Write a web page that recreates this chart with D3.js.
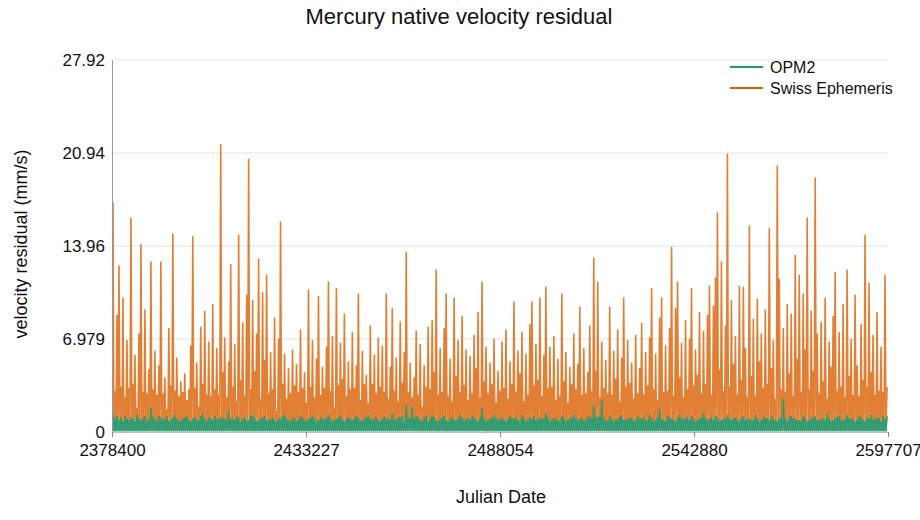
<!DOCTYPE html>
<html>
    <head>
        <title>Mercury native velocity residual</title>
        <script src="https://d3js.org/d3.v7.min.js"></script>
        <style>
            body { margin: 0; background: #fff; }
            svg { font-family: 'Liberation Sans', Arial, Helvetica, sans-serif; }
        </style>
    </head>
    <body>
        <script>
            const jdStart = 2378400
            const jdEnd = 2597707
            const xTicks = [2378400, 2433227, 2488054, 2542880, 2597707]
            const yTicks = [0, 6.979, 13.96, 20.94, 27.92]
            const yTickLabels = ['0', '6.979', '13.96', '20.94', '27.92']
            const seriesNames = ['OPM2', 'Swiss Ephemeris']
            const colors = ['#1b9e77', '#d95f02']

            // the series are far denser than the screen; each value below is the
            // highest residual in one equal slice of the date range,
            // and every slice dips back to about zero (floor values)
            const seriesFloor = [0.05, 0.1]

            const swissPeaks = [
                17.2, 3.1, 8.8, 12.5, 3.4, 10.1, 2.6, 6.9, 3.3, 16.1, 3.6, 5.8, 1.8, 7.4, 14.1, 3.0, 9.2, 2.9, 4.7, 12.8,
                3.2, 6.1, 2.8, 5.0, 12.8, 2.9, 4.1, 1.7, 7.8, 3.5, 14.9, 3.1, 5.6, 2.7, 3.8, 3.0, 4.4, 2.4, 3.2, 6.5,
                14.7, 3.3, 5.2, 1.9, 7.9, 3.6, 9.1, 2.8, 6.8, 2.7, 9.6, 3.2, 6.3, 2.8, 21.6, 4.5, 7.1, 2.6, 5.3, 12.6,
                3.4, 6.6, 2.3, 14.8, 3.9, 8.2, 2.7, 10.3, 20.5, 3.2, 9.9, 4.6, 7.4, 13.0, 2.5, 10.5, 5.4, 11.8, 2.9, 6.0,
                3.2, 8.6, 1.6, 7.0, 15.8, 3.6, 5.9, 2.5, 4.8, 2.9, 6.2, 3.5, 5.1, 3.0, 7.7, 3.3, 4.5, 2.2, 10.7, 3.4,
                6.9, 2.6, 5.5, 10.2, 2.8, 4.9, 3.3, 6.4, 11.3, 3.1, 7.2, 1.8, 10.8, 3.5, 6.7, 4.0, 8.9, 2.7, 5.3, 3.2,
                7.5, 3.3, 5.0, 10.4, 2.4, 6.1, 3.6, 4.3, 2.2, 8.0, 3.6, 5.8, 2.9, 7.1, 3.4, 6.5, 3.0, 10.4, 2.5, 4.9,
                9.3, 3.1, 5.6, 2.3, 8.3, 3.7, 6.0, 13.5, 3.0, 5.2, 2.6, 4.1, 7.6, 2.8, 6.6, 1.9, 5.0, 3.4, 7.9, 3.2,
                8.4, 4.5, 12.2, 2.8, 6.3, 3.0, 7.8, 10.4, 2.7, 5.5, 2.3, 10.1, 4.2, 6.9, 3.0, 8.7, 3.5, 6.2, 2.4, 5.7,
                2.9, 7.3, 4.8, 9.0, 2.6, 11.3, 3.8, 6.4, 2.9, 5.2, 3.6, 7.0, 2.2, 4.6, 3.1, 6.8, 3.3, 7.7, 2.5, 5.3,
                3.6, 9.8, 3.0, 6.1, 4.4, 7.5, 2.3, 5.9, 2.8, 8.1, 9.8, 3.5, 6.6, 3.9, 10.1, 2.7, 5.8, 10.9, 3.3, 6.4,
                3.4, 7.2, 2.4, 5.5, 2.7, 10.4, 3.8, 6.0, 2.2, 4.9, 3.6, 7.4, 3.2, 5.1, 9.4, 2.8, 6.3, 2.9, 4.5, 8.0,
                3.1, 13.1, 4.6, 11.3, 2.6, 6.8, 3.3, 5.4, 2.9, 9.4, 2.8, 6.1, 4.0, 7.7, 2.3, 5.6, 10.1, 3.4, 6.9, 3.7,
                5.2, 2.5, 7.3, 2.9, 4.8, 8.2, 2.8, 6.0, 3.5, 7.1, 10.8, 3.2, 5.9, 2.4, 8.6, 10.1, 3.0, 6.5, 3.1, 7.8,
                13.9, 2.7, 9.3, 11.3, 4.1, 6.7, 2.6, 8.4, 3.2, 7.0, 10.8, 3.5, 6.2, 4.3, 9.0, 2.9, 7.6, 3.6, 8.8, 11.0,
                2.8, 9.5, 11.6, 16.5, 4.7, 12.8, 3.1, 8.0, 20.9, 3.4, 9.9, 5.1, 7.2, 2.8, 11.0, 3.9, 10.9, 6.3, 2.6, 15.5,
                4.2, 8.5, 2.7, 10.0, 5.3, 7.4, 3.3, 9.2, 3.6, 15.3, 4.8, 6.9, 2.5, 20.0, 11.5, 3.2, 7.8, 3.0, 9.6, 4.4,
                8.9, 2.7, 13.3, 5.5, 11.8, 3.0, 10.4, 6.2, 16.1, 3.2, 9.1, 4.6, 19.1, 7.4, 2.9, 8.3, 3.8, 10.1, 2.5, 6.8,
                4.9, 8.7, 12.0, 3.1, 7.5, 3.4, 9.6, 2.6, 12.2, 4.2, 7.0, 2.8, 10.3, 5.0, 2.7, 8.1, 3.9, 14.8, 3.4, 11.2,
                4.5, 7.3, 2.8, 9.0, 3.1, 6.4, 3.0, 11.8, 3.3
            ]

            const opm2Peaks = [
                1.3, 1.0, 1.2, 0.9, 1.1, 0.8, 1.2, 1.0, 0.9, 1.1, 1.0, 0.8, 1.3, 1.1, 0.9, 1.0, 1.2, 0.8, 1.0, 1.8,
                1.1, 1.0, 0.8, 1.2, 1.1, 0.9, 1.0, 1.2, 0.8, 0.9, 1.1, 1.3, 1.0, 0.8, 0.9, 1.0, 1.1, 1.2, 0.9, 0.8,
                1.0, 1.1, 0.9, 0.9, 1.2, 1.4, 1.0, 0.8, 1.1, 1.0, 0.9, 1.2, 1.0, 0.9, 1.1, 1.1, 1.0, 0.8, 1.6, 1.0,
                1.0, 0.9, 1.2, 1.1, 0.8, 1.0, 1.1, 0.9, 0.9, 1.2, 1.3, 1.0, 0.8, 0.9, 1.0, 1.1, 1.2, 0.9, 0.9, 1.0,
                1.1, 0.9, 0.8, 1.0, 1.0, 1.2, 1.3, 1.0, 0.9, 0.8, 1.1, 1.0, 0.8, 0.9, 1.2, 1.1, 0.9, 0.8, 1.0, 1.1,
                1.2, 1.0, 0.8, 0.9, 1.1, 1.0, 0.9, 1.1, 1.3, 1.0, 0.8, 0.9, 1.0, 1.1, 1.2, 0.9, 0.8, 1.0, 1.1, 1.0,
                0.9, 1.0, 1.2, 1.1, 0.8, 0.9, 1.0, 1.1, 1.3, 1.0, 0.9, 1.0, 1.1, 0.9, 0.8, 1.0, 1.2, 1.0, 1.0, 0.9,
                1.4, 1.0, 0.9, 1.1, 1.1, 1.2, 0.8, 2.0, 1.1, 1.0, 1.9, 1.0, 1.2, 1.1, 0.9, 0.8, 1.1, 1.2, 0.8, 1.0,
                1.3, 1.1, 0.9, 0.8, 1.0, 1.1, 1.2, 0.9, 0.8, 1.0, 1.1, 0.9, 0.9, 1.0, 1.3, 1.1, 0.8, 1.0, 1.0, 0.9,
                1.2, 1.1, 0.9, 0.8, 1.1, 1.8, 1.0, 0.8, 0.9, 1.0, 1.1, 1.3, 1.0, 0.9, 1.0, 1.1, 0.9, 0.8, 1.0, 1.2,
                1.0, 1.0, 1.1, 0.9, 0.8, 1.3, 1.1, 0.8, 0.9, 1.1, 1.0, 1.2, 0.9, 0.9, 1.1, 1.0, 1.0, 1.4, 1.1, 0.8,
                0.9, 1.1, 1.0, 0.9, 0.8, 1.2, 1.1, 0.8, 0.9, 1.0, 1.1, 1.3, 1.0, 0.9, 1.0, 1.1, 0.9, 0.8, 1.1, 1.2,
                1.0, 2.0, 1.1, 1.1, 1.2, 2.4, 1.0, 0.9, 0.8, 1.2, 1.0, 0.8, 0.9, 1.0, 1.1, 1.3, 0.9, 0.9, 1.0, 1.1,
                1.0, 0.8, 0.9, 1.2, 1.0, 1.0, 1.1, 0.9, 0.8, 1.3, 1.1, 0.8, 0.9, 1.1, 1.7, 1.0, 0.9, 0.8, 1.2, 1.1,
                1.0, 0.9, 0.8, 1.1, 1.3, 1.0, 0.9, 1.1, 1.1, 0.9, 1.2, 1.0, 0.8, 0.9, 1.0, 1.1, 1.4, 1.0, 0.9, 1.0,
                1.1, 0.9, 1.2, 1.1, 0.8, 0.9, 1.0, 1.0, 1.3, 1.0, 0.9, 1.0, 1.1, 0.9, 0.8, 1.1, 1.2, 0.9, 1.0, 1.0,
                0.9, 0.9, 1.3, 1.0, 0.8, 0.9, 1.1, 1.1, 1.0, 0.9, 1.2, 1.0, 0.9, 0.8, 1.1, 1.0, 2.5, 1.0, 0.8, 1.1,
                1.2, 1.0, 1.0, 0.9, 0.9, 0.8, 1.3, 1.1, 0.8, 0.9, 1.1, 1.0, 1.2, 0.9, 0.9, 1.0, 1.0, 0.9, 1.4, 1.0,
                0.8, 0.9, 1.1, 1.1, 1.2, 0.9, 0.9, 1.0, 1.3, 1.0, 1.0, 1.0, 0.8, 0.9, 1.2, 1.1, 0.9, 0.8, 1.1, 1.0,
                1.3, 1.0, 0.9, 1.1, 1.0, 0.8, 1.2, 1.0, 1.1
            ]

            const margin = { top: 60, right: 32, bottom: 88, left: 112 }
            const svgWidth = 920
            const svgHeight = 520
            const width = svgWidth - margin.left - margin.right
            const height = svgHeight - margin.top - margin.bottom

            const svg = d3.select('body').append('svg')
                .attr('width', svgWidth)
                .attr('height', svgHeight)

            const g = svg.append('g')
                .attr('transform', `translate(${margin.left}, ${margin.top})`)

            const xScale = d3.scaleLinear().domain([jdStart, jdEnd]).range([0, width])
            const yScale = d3.scaleLinear().domain([0, 27.92]).range([height, 0])

            // grid lines
            g.append('g')
                .selectAll('line')
                .data(yTicks).enter()
                .append('line')
                    .attr('x1', 0).attr('x2', width)
                    .attr('y1', d => yScale(d)).attr('y2', d => yScale(d))
                    .attr('stroke', '#e2e2e2')
                    .attr('stroke-width', 1)

            // each slice: up to its peak, back down to the floor
            const slicePoints = (peaks, floor) => {
                const sliceJd = (jdEnd - jdStart) / peaks.length
                const pts = []
                peaks.forEach((p, i) => {
                    pts.push({ jd: jdStart + i * sliceJd, v: i === 0 ? p : floor })
                    pts.push({ jd: jdStart + (i + 0.5) * sliceJd, v: p })
                })
                pts.push({ jd: jdEnd, v: peaks[peaks.length - 1] })
                return pts
            }

            const line = d3.line()
                .x(d => xScale(d.jd))
                .y(d => yScale(d.v))

            const drawSeries = (peaks, floor, color, opacity) => {
                g.append('path')
                    .datum(slicePoints(peaks, floor))
                    .attr('fill', 'none')
                    .attr('stroke', color)
                    .attr('stroke-opacity', opacity)
                    .attr('stroke-width', 1.6)
                    .attr('d', line)
            }
            drawSeries(swissPeaks, seriesFloor[1], colors[1], 0.8)
            drawSeries(opm2Peaks, seriesFloor[0], colors[0], 0.88)

            // axes
            const xAxis = g.append('g')
                .attr('transform', `translate(0, ${height})`)
                .call(d3.axisBottom(xScale).tickValues(xTicks).tickFormat(d3.format('d')).tickSizeOuter(0).tickSize(5))
            xAxis.select('.domain').attr('stroke', '#bbb')
            xAxis.selectAll('.tick line').attr('stroke', '#888')
            xAxis.selectAll('.tick text')
                .attr('font-size', 17)
                .attr('fill', '#111')
                .attr('dy', '0.94em')

            const yAxis = g.append('g')
                .call(d3.axisLeft(yScale).tickValues(yTicks)
                    .tickFormat((d, i) => yTickLabels[i]).tickSize(0).tickPadding(7))
            yAxis.select('.domain').attr('stroke', '#999')
            yAxis.selectAll('.tick text')
                .attr('font-size', 17)
                .attr('fill', '#111')

            // titles
            svg.append('text')
                .attr('x', 459).attr('y', 24)
                .attr('text-anchor', 'middle')
                .attr('font-size', 22)
                .attr('fill', '#111')
                .text('Mercury native velocity residual')

            svg.append('text')
                .attr('x', 501).attr('y', 503)
                .attr('text-anchor', 'middle')
                .attr('font-size', 18)
                .attr('fill', '#111')
                .text('Julian Date')

            svg.append('text')
                .attr('transform', `translate(27, ${margin.top + height / 2 - 2}) rotate(-90)`)
                .attr('text-anchor', 'middle')
                .attr('font-size', 18)
                .attr('fill', '#111')
                .text('velocity residual (mm/s)')

            // legend
            const legend = svg.append('g')
                .attr('transform', 'translate(730, 67)')
            const items = legend.selectAll('.item')
                .data(seriesNames).enter()
                .append('g')
                    .attr('class', 'item')
                    .attr('transform', (d, i) => `translate(0, ${i * 21})`)
            items.append('line')
                .attr('x1', 0).attr('x2', 33)
                .attr('stroke', (d, i) => colors[i])
                .attr('stroke-width', 2)
            items.append('text')
                .attr('x', 40).attr('dy', '0.35em')
                .attr('font-size', 16)
                .attr('fill', '#111')
                .text(d => d)
        </script>
    </body>
</html>
